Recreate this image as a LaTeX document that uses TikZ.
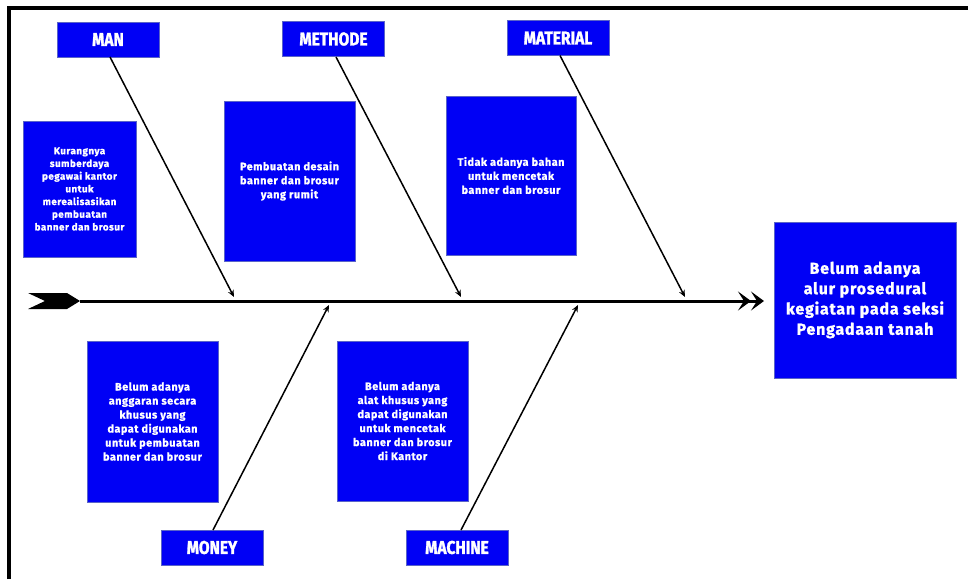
\documentclass[tikz,border=0pt]{standalone}
\usepackage{fontspec}
\setmainfont{Fira Sans}
\newfontfamily\labfont{Fira Sans}[FakeStretch=0.84, FakeBold=1.5]
\newfontfamily\boxfont{Fira Sans}[LetterSpace=5, FakeBold=1.2]
\usetikzlibrary{arrows.meta}
\definecolor{fbblue}{RGB}{0,0,245}
\definecolor{fbedge}{RGB}{90,100,200}
\tikzset{
  catbox/.style={draw=fbedge, line width=0.6pt, fill=fbblue, text=white, minimum width=102pt, minimum height=35pt, inner sep=0pt, font=\labfont\bfseries\fontsize{18.5}{20}\selectfont},
  causebox/.style={draw=fbedge, line width=0.6pt, fill=fbblue, text=white, inner sep=0pt, align=center, font=\boxfont\bfseries\fontsize{10.8}{14}\selectfont},
  bone/.style={line width=1.5pt, -{Stealth[length=7pt,width=6pt]}},
}
\begin{document}
\begin{tikzpicture}[x=1pt,y=-1pt]
\useasboundingbox (0,0) rectangle (968,579);
% frame
\draw[line width=4pt] (8.5,579) -- (8.5,7.5) -- (968,7.5);
% category boxes
\node[catbox] (man) at (108,39.5) {MAN};
\node[catbox] (met) at (333.5,39) {METHODE};
\node[catbox] (mat) at (558,38) {MATERIAL};
\node[catbox] (mon) at (212,547.5) {MONEY};
\node[catbox] (mac) at (457,547.5) {MACHINE};
% cause boxes
\node[causebox, minimum width=113pt, minimum height=136pt, font=\boxfont\bfseries\fontsize{9.8}{12.7}\selectfont] (c1) at (79.5,189) {Kurangnya\\sumberdaya\\pegawai kantor\\untuk\\merealisasikan\\pembuatan\\banner dan brosur};
\node[causebox, minimum width=131pt, minimum height=160pt] (c2) at (289.5,181) {Pembuatan desain\\banner dan brosur\\yang rumit};
\node[causebox, minimum width=130pt, minimum height=159pt] (c3) at (511,175.5) {Tidak adanya bahan\\untuk mencetak\\banner dan brosur};
\node[causebox, minimum width=131pt, minimum height=161pt] (c4) at (152.5,421.5) {Belum adanya\\anggaran secara\\khusus yang\\dapat digunakan\\untuk pembuatan\\banner dan brosur};
\node[causebox, minimum width=131pt, minimum height=160pt] (c5) at (402.5,421) {Belum adanya\\alat khusus yang\\dapat digunakan\\untuk mencetak\\banner dan brosur\\di Kantor};
% effect
\node[causebox, minimum width=182pt, minimum height=156pt, font=\boxfont\bfseries\fontsize{16}{20.3}\selectfont] (eff) at (865,300) {Belum adanya\\alur prosedural\\kegiatan pada seksi\\Pengadaan tanah};
% spine
\coordinate (tail) at (80,301);
\coordinate (head) at (764,301);
\fill (28,293) -- (67,293) -- (tail) -- (67,309) -- (28,309) -- (45,301) -- cycle;
\draw[line width=3pt, -{Stealth[length=13pt,width=19pt,inset=6pt]Stealth[length=13pt,width=19pt,inset=6pt]}] (tail) -- (head);
% bones
\coordinate (p1) at (234,297);
\coordinate (p2) at (461,297);
\coordinate (p3) at (685,297);
\coordinate (p4) at (329,305);
\coordinate (p5) at (578,305);
\draw[bone] (110,57) -- (p1);
\draw[bone] (336,57) -- (p2);
\draw[bone] (560,55.5) -- (p3);
\draw[bone] (213,530) -- (p4);
\draw[bone] (461,530) -- (p5);
\end{tikzpicture}
\end{document}
